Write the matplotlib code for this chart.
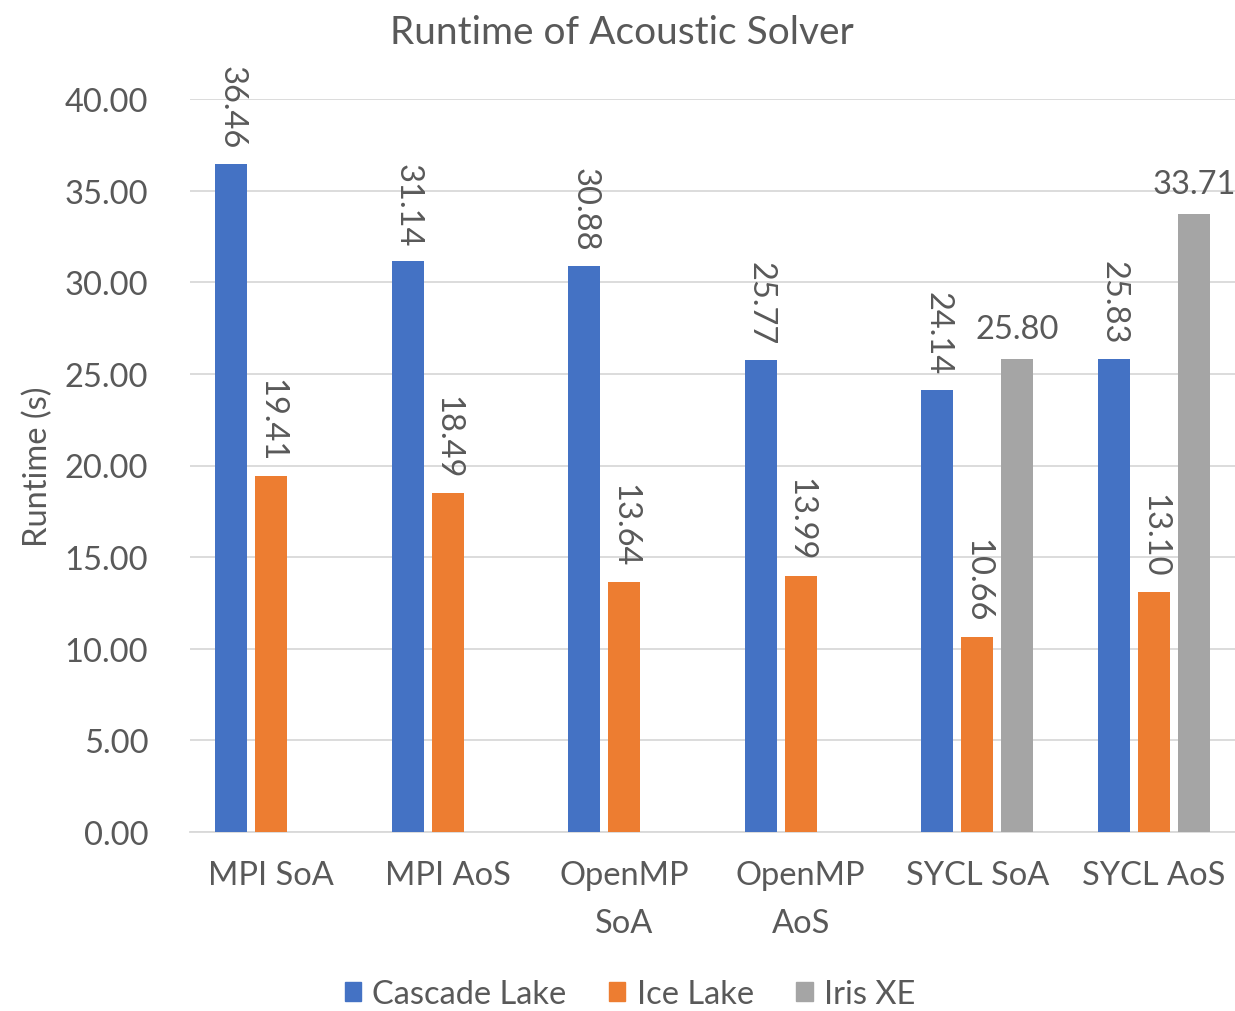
import numpy as np
import matplotlib
matplotlib.use('Agg')
import matplotlib.pyplot as plt
from matplotlib.patches import Patch

plt.rcParams['font.family'] = ['Lato', 'DejaVu Sans']

categories   = ['MPI SoA', 'MPI AoS', 'OpenMP\nSoA', 'OpenMP\nAoS', 'SYCL SoA', 'SYCL AoS']
cascade_lake = [36.46, 31.14, 30.88, 25.77, 24.14, 25.83]
ice_lake     = [19.41, 18.49, 13.64, 13.99, 10.66, 13.10]
iris_xe      = [np.nan, np.nan, np.nan, np.nan, 25.80, 33.71]
series_names = ['Cascade Lake', 'Ice Lake', 'Iris XE']

COLORS = ['#4472C4', '#ED7D31', '#A5A5A5']
TXT    = '#595959'
GRID   = '#D9D9D9'
FS     = 23.5

W, H = 1235, 1012
fig = plt.figure(figsize=(W / 100, H / 100), dpi=100)
ax = fig.add_axes([190 / W, 1 - 833 / H, (W - 190) / W, 733 / H])

x     = np.arange(len(categories))
width = 0.18
step  = 0.227

series = [cascade_lake, ice_lake, iris_xe]
for i, (vals, col) in enumerate(zip(series, COLORS)):
    pos = x + (i - 1) * step
    ax.bar(pos, vals, width, color=col, zorder=3)
    for p, v in zip(pos, vals):
        if np.isnan(v):
            continue
        # CPU labels run vertically, the GPU ones sit flat
        rot = 270 if i < 2 else 0
        ax.annotate(f'{v:.2f}', (p, v), xytext=(0, 11), textcoords='offset points',
                    ha='center', va='bottom', rotation=rot,
                    fontsize=FS, color=TXT)

ax.set_xlim(-0.46, 5.46)
ax.set_ylim(0, 40)
ticks = np.arange(0, 40.1, 5)
ax.set_yticks(ticks)
ax.set_yticklabels([f'{t:.2f}' for t in ticks])
ax.set_xticks(x)
ax.set_xticklabels(categories, linespacing=1.75)
ax.tick_params(axis='both', length=0, labelsize=FS, labelcolor=TXT)
ax.tick_params(axis='y', pad=30)
ax.tick_params(axis='x', pad=20)

ax.grid(axis='y', color=GRID, lw=1.3, zorder=0)
for s in ['top', 'right', 'left']:
    ax.spines[s].set_visible(False)
ax.spines['bottom'].set_color(GRID)
ax.spines['bottom'].set_linewidth(1.3)

ax.set_ylabel('Runtime (s)', fontsize=FS, color=TXT, labelpad=8)
fig.text(622 / W, 1 - 33 / H, 'Runtime of Acoustic Solver', ha='center', va='center',
         fontsize=28, color=TXT)

handles = [Patch(color=c, label=n) for c, n in zip(COLORS, series_names)]
fig.legend(handles=handles, loc='center', bbox_to_anchor=(630 / W, 1 - 995 / H),
           ncol=3, frameon=False, fontsize=FS, labelcolor=TXT,
           handlelength=0.5, handleheight=0.5, handletextpad=0.35, columnspacing=1.3)

fig.savefig('out.png', dpi=100)
